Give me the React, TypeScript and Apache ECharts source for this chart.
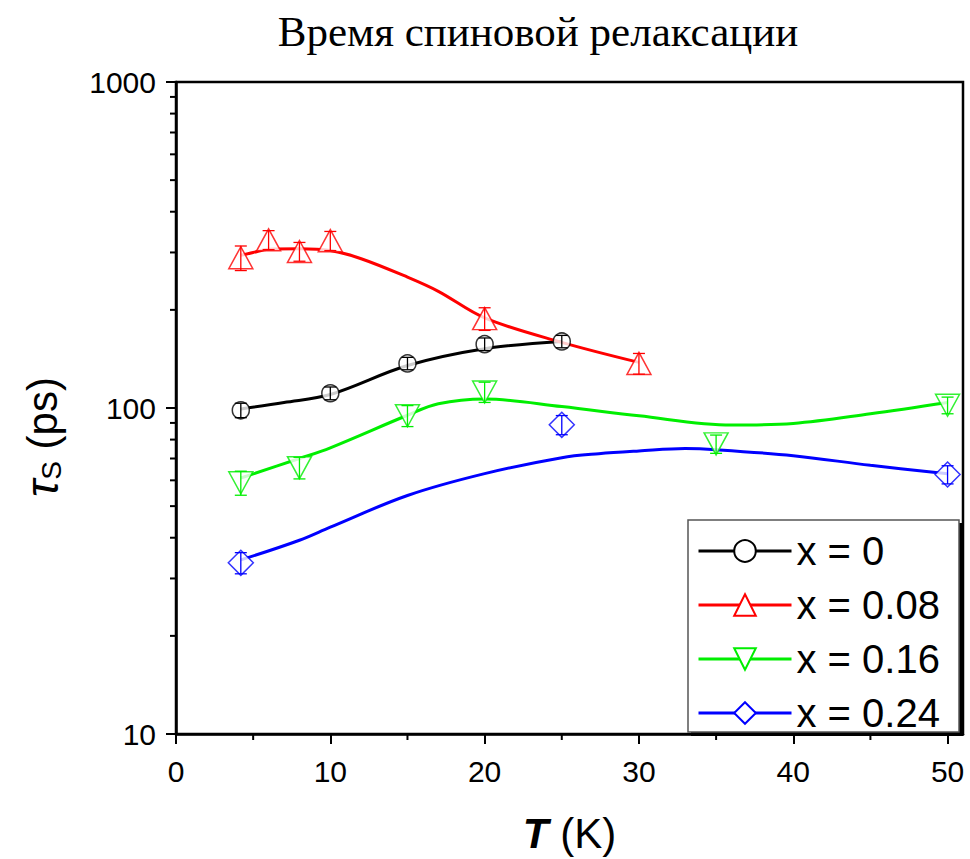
import { useEffect, useRef } from 'react';
import * as echarts from 'echarts';

// Measured spin relaxation times (ps) vs temperature (K) with error half-widths
const tempX0 = [4.2, 10, 15, 20, 25];
const tauX0 = [98.4, 111, 137, 157, 160];
const errX0 = [5, 5, 6, 7, 7];

const tempX008 = [4.2, 6, 8, 10, 20, 30];
const tauX008 = [289, 328, 302, 326, 188, 137];
const errX008 = [25, 22, 20, 22, 15, 10];

const tempX016 = [4.2, 8, 15, 20, 35, 50];
const tauX016 = [59, 65.6, 94.7, 112, 77.6, 102];
const errX016 = [5, 5, 7, 8, 5, 6];

const tempX024 = [4.2, 25, 50];
const tauX024 = [33.5, 88.8, 62.5];
const errX024 = [2.5, 6, 4];

// Smooth guide-to-the-eye curves
const fitTempX0 = [4.2, 7, 10, 15, 20, 25];
const fitTauX0 = [99.3, 104, 110, 135, 152, 160];

const fitTempX008 = [4.2, 5, 6, 8, 10, 12, 15, 17, 20, 25, 30];
const fitTauX008 = [294, 300, 307, 308, 304, 287, 252, 228, 189, 159, 138];

const fitTempX016 = [4.2, 8, 10, 15, 17, 20, 25, 30, 36, 40, 45, 50];
const fitTauX016 = [61, 70, 75.5, 95, 103, 106.5, 101, 94.6, 88.7, 89.7, 96, 104];

const fitTempX024 = [4.2, 8, 10, 15, 20, 25, 27.4, 30, 33, 35, 40, 45, 50];
const fitTauX024 = [34.2, 39.3, 43.1, 53.9, 62.9, 70.4, 72.4, 73.8, 75.1, 74.5, 71.4, 66.7, 62.9];

const seriesNames = ['x = 0', 'x = 0.08', 'x = 0.16', 'x = 0.24'];
const xMajorTicks = [0, 10, 20, 30, 40, 50];
const xMinorTicks = [5, 15, 25, 35, 45];
const yMinorTicks = [20, 30, 40, 50, 60, 70, 80, 90, 200, 300, 400, 500, 600, 700, 800, 900];

const SANS = "'Liberation Sans', Arial, sans-serif";
const SERIF = "'Liberation Serif', 'Times New Roman', serif";

const zip = (a: number[], b: number[]) => a.map((v, i) => [v, b[i]]);
const zip3 = (a: number[], b: number[], c: number[]) => a.map((v, i) => [v, b[i], c[i]]);

type Group = {
  name: string;
  color: string;
  symbol: string;
  rotate: number;
  size: number | number[];
  t: number[];
  tau: number[];
  err: number[];
  ft: number[];
  ftau: number[];
};

const groups: Group[] = [
  { name: seriesNames[0], color: '#000000', symbol: 'circle', rotate: 0, size: 17, t: tempX0, tau: tauX0, err: errX0, ft: fitTempX0, ftau: fitTauX0 },
  { name: seriesNames[1], color: '#ff0000', symbol: 'triangle', rotate: 0, size: [24, 22], t: tempX008, tau: tauX008, err: errX008, ft: fitTempX008, ftau: fitTauX008 },
  { name: seriesNames[2], color: '#00ee00', symbol: 'triangle', rotate: 180, size: [24, 22], t: tempX016, tau: tauX016, err: errX016, ft: fitTempX016, ftau: fitTauX016 },
  { name: seriesNames[3], color: '#0000ff', symbol: 'diamond', rotate: 0, size: [25, 25], t: tempX024, tau: tauX024, err: errX024, ft: fitTempX024, ftau: fitTauX024 },
];

function errorBarItem(_params: any, api: any) {
  const t = api.value(0);
  const v = api.value(1);
  const e = api.value(2);
  const hi = api.coord([t, v + e]);
  const lo = api.coord([t, v - e]);
  const w = 6;
  const style = { stroke: api.visual('color'), lineWidth: 1.3, fill: 'none' };
  return {
    type: 'group',
    children: [
      { type: 'line', shape: { x1: hi[0], y1: hi[1], x2: lo[0], y2: lo[1] }, style },
      { type: 'line', shape: { x1: hi[0] - w, y1: hi[1], x2: hi[0] + w, y2: hi[1] }, style },
      { type: 'line', shape: { x1: lo[0] - w, y1: lo[1], x2: lo[0] + w, y2: lo[1] }, style },
    ],
  };
}

function yMinorTickItem(_params: any, api: any) {
  const p = api.coord([api.value(0), api.value(1)]);
  return {
    type: 'line',
    shape: { x1: p[0], y1: p[1], x2: p[0] - 6, y2: p[1] },
    style: { stroke: '#000', lineWidth: 2 },
  };
}

function xMinorTickItem(_params: any, api: any) {
  const p = api.coord([api.value(0), api.value(1)]);
  return {
    type: 'line',
    shape: { x1: p[0], y1: p[1], x2: p[0], y2: p[1] + 6 },
    style: { stroke: '#000', lineWidth: 2 },
  };
}

export default function App() {
  const ref = useRef<HTMLDivElement>(null);

  useEffect(() => {
    if (!ref.current) return;
    const chart = echarts.init(ref.current, null, { renderer: 'svg' });

    const series: any[] = [];
    groups.forEach((g) => {
      series.push({
        name: g.name,
        type: 'line',
        data: zip(g.ft, g.ftau),
        smooth: 0.35,
        showSymbol: false,
        symbol: g.symbol,
        symbolRotate: g.rotate,
        lineStyle: { color: g.color, width: 3 },
        itemStyle: { color: '#ffffff', borderColor: g.color, borderWidth: 1.3 },
        z: 2,
        silent: true,
      });
    });
    groups.forEach((g) => {
      series.push({
        name: g.name,
        type: 'scatter',
        data: zip(g.t, g.tau),
        symbol: g.symbol,
        symbolRotate: g.rotate,
        symbolSize: g.size,
        itemStyle: { color: '#ffffff', borderColor: g.color, borderWidth: 1.5 },
        z: 3,
        silent: true,
      });
      series.push({
        type: 'custom',
        data: zip3(g.t, g.tau, g.err),
        renderItem: errorBarItem,
        encode: { x: 0, y: 1 },
        itemStyle: { color: g.color },
        z: 4,
        silent: true,
      });
    });
    series.push({
      type: 'custom',
      data: yMinorTicks.map((v) => [0, v]),
      renderItem: yMinorTickItem,
      encode: { x: 0, y: 1 },
      clip: false,
      z: 5,
      silent: true,
    });
    series.push({
      type: 'custom',
      data: xMinorTicks.map((t) => [t, 10]),
      renderItem: xMinorTickItem,
      encode: { x: 0, y: 1 },
      clip: false,
      z: 5,
      silent: true,
    });

    chart.setOption({
      animation: false,
      backgroundColor: '#ffffff',
      grid: {
        left: 176,
        top: 82,
        right: 7,
        bottom: 121,
        show: true,
        borderColor: '#000',
        borderWidth: 2.5,
        backgroundColor: 'transparent',
      },
      xAxis: {
        type: 'value',
        min: 0,
        max: 51,
        interval: 10,
        name: '{it|T} (K)',
        nameLocation: 'middle',
        nameGap: 78,
        nameTextStyle: {
          fontFamily: SANS,
          fontSize: 42,
          color: '#000',
          rich: {
            it: { fontFamily: SANS, fontSize: 42, fontStyle: 'italic', fontWeight: 'bold', color: '#000' },
          },
        },
        axisLine: { lineStyle: { color: '#000', width: 2.5 } },
        axisTick: { inside: false, length: 10, lineStyle: { width: 2 }, customValues: xMajorTicks },
        axisLabel: { fontFamily: SANS, fontSize: 30, color: '#000', margin: 22, customValues: xMajorTicks },
        splitLine: { show: false },
      },
      yAxis: {
        type: 'log',
        logBase: 10,
        min: 10,
        max: 1000,
        axisLine: { show: true, lineStyle: { color: '#000', width: 2.5 } },
        axisTick: { show: true, inside: false, length: 10, lineStyle: { width: 2 } },
        axisLabel: {
          fontFamily: SANS,
          fontSize: 30,
          color: '#000',
          margin: 20,
          formatter: (v: number) => String(Math.round(v)),
        },
        splitLine: { show: false },
        minorTick: { show: false },
      },
      legend: {
        data: seriesNames,
        orient: 'vertical',
        left: 689,
        top: 523,
        padding: [8, 8, 8, 8],
        itemWidth: 93,
        itemHeight: 27,
        itemGap: 14,
        z: 10,
        lineStyle: { width: 3 },
        textStyle: { fontFamily: SANS, fontSize: 40, color: '#000' },
        selectedMode: false,
      },
      graphic: [
        {
          type: 'text',
          x: 538,
          y: 10,
          z: 10,
          style: {
            text: 'Время спиновой релаксации',
            textAlign: 'center',
            textVerticalAlign: 'top',
            font: `43px ${SERIF}`,
            fill: '#000',
          },
        },
        {
          type: 'rect',
          z: 5,
          shape: { x: 691, y: 523, width: 272, height: 213 },
          style: { fill: '#000' },
          silent: true,
        },
        {
          type: 'rect',
          z: 6,
          shape: { x: 688, y: 520, width: 271, height: 212 },
          style: { fill: '#fff', stroke: '#555', lineWidth: 1.5 },
          silent: true,
        },
        {
          type: 'text',
          x: 42,
          y: 437,
          rotation: Math.PI / 2,
          z: 10,
          style: {
            text: '{t|τ}{s|S} (ps)',
            textAlign: 'center',
            textVerticalAlign: 'middle',
            font: `42px ${SANS}`,
            fill: '#000',
            rich: {
              t: { fontFamily: SANS, fontSize: 46, fontStyle: 'italic', fill: '#000' },
              s: { fontFamily: SANS, fontSize: 28, fill: '#000', verticalAlign: 'bottom', padding: [18, 0, 0, 0] },
            },
          },
        },
      ],
      series,
    });

    return () => chart.dispose();
  }, []);

  return <div ref={ref} style={{ position: 'fixed', left: 0, top: 0, width: 970, height: 859 }} />;
}
